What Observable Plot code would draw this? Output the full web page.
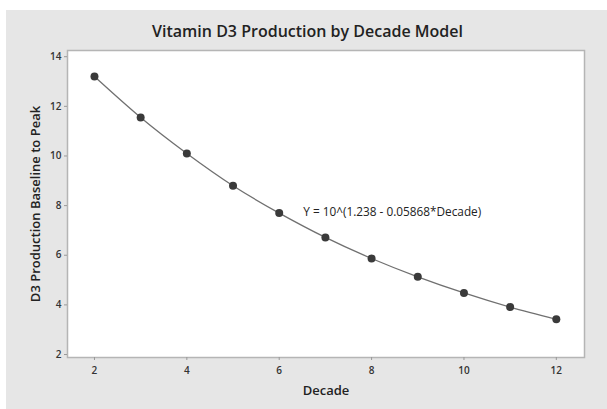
<!DOCTYPE html>
<html><head><meta charset="utf-8">
<script src="https://cdn.jsdelivr.net/npm/d3@7"></script>
<script src="https://cdn.jsdelivr.net/npm/@observablehq/plot@0.6"></script>
<style>
html,body{margin:0;padding:0;background:#fff;}
#wrap{position:absolute;left:6px;top:10px;width:601px;height:399px;background:#e6e6e6;overflow:hidden;}
#title{height:38px;line-height:42px;text-align:center;font-family:"Open Sans",sans-serif;font-weight:600;font-size:16px;color:#222;padding-left:2px;}
#chart svg{display:block;background:transparent;}
</style></head>
<body>
<div id="wrap"><div id="title">Vitamin D3 Production by Decade Model</div><div id="chart"></div></div>
<script>
const decades = [2,3,4,5,6,7,8,9,10,11,12];
const production = [13.2,11.55,10.1,8.8,7.7,6.72,5.87,5.13,4.48,3.91,3.42];
const xTicks = [2,4,6,8,10,12];
const yTicks = [2,4,6,8,10,12,14];
const equationText = "Y = 10^(1.238 - 0.05868*Decade)";
const equationPos = {x: 6.52, y: 7.74};

const data = decades.map((d,i)=>({decade:d, value:production[i]}));

const chart = Plot.plot({
  width: 601, height: 361,
  marginLeft: 61, marginRight: 23, marginTop: 2, marginBottom: 52,
  style: {fontFamily: "'Open Sans', sans-serif", background: "transparent", color: "#333"},
  x: {domain: [1.416, 12.61], ticks: xTicks, label: null},
  y: {domain: [1.88, 14.25], ticks: yTicks, label: null},
  marks: [
    Plot.frame({fill: "white", stroke: "#b5b5b5", strokeWidth: 1.5}),
    Plot.axisX({ticks: xTicks, tickSize: 3, stroke: "#999", tickPadding: 6, fontSize: 10, fontWeight: 600, fill: "#333", label: null}),
    Plot.axisY({ticks: yTicks, tickSize: 3, stroke: "#999", tickPadding: 3, fontSize: 10, fontWeight: 600, fill: "#333", label: null}),
    Plot.text(["Decade"], {frameAnchor: "bottom", dy: 37, fontSize: 13, fontWeight: 600, fill: "#222"}),
    Plot.text(["D3 Production Baseline to Peak"], {frameAnchor: "left", textAnchor: "middle", dx: -32, rotate: -90, fontSize: 13, fontWeight: 600, fill: "#222"}),
    Plot.line(data, {x: "decade", y: "value", curve: "natural", stroke: "#707070", strokeWidth: 1.3}),
    Plot.dot(data, {x: "decade", y: "value", r: 4, fill: "#3a3a3a", stroke: "none"}),
    Plot.text([equationPos], {x: "x", y: "y", text: () => equationText, textAnchor: "start", fontSize: 11.8, fill: "#222"})
  ]
});
document.getElementById("chart").appendChild(chart);
</script>
</body></html>
